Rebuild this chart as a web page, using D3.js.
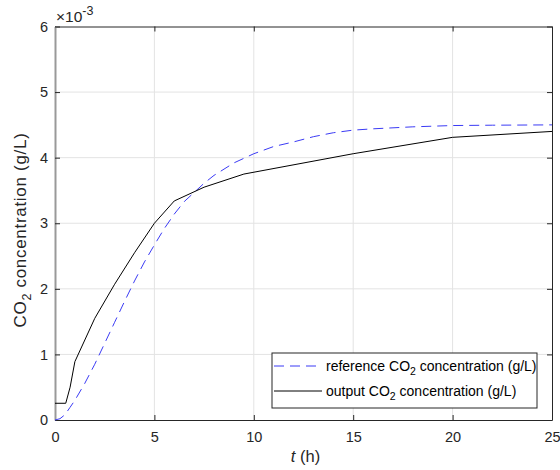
<!DOCTYPE html>
<html>
<head>
<meta charset="utf-8">
<script src="https://cdn.jsdelivr.net/npm/d3@7"></script>
<style>
  body { margin: 0; background: #fff; }
  svg { font-family: "Liberation Sans", Arial, sans-serif; }
</style>
</head>
<body>
<svg id="chart" width="560" height="470"></svg>
<script>
// time (h)
const refTime = [0, 0.25, 0.5, 0.75, 1, 1.5, 2, 2.5, 3, 3.5, 4, 4.5, 5, 5.5, 6, 6.5, 7, 7.5, 8, 9, 10, 11, 12, 13, 14, 15, 16, 18, 20, 22, 25];
// reference CO2 concentration (x1e-3 g/L)
const refValues = [0, 0.02, 0.08, 0.19, 0.3, 0.56, 0.85, 1.17, 1.49, 1.81, 2.12, 2.41, 2.67, 2.92, 3.14, 3.33, 3.47, 3.61, 3.73, 3.92, 4.06, 4.17, 4.24, 4.32, 4.38, 4.42, 4.44, 4.47, 4.49, 4.495, 4.5];

const outTime = [0, 0.54, 0.76, 1, 2, 3, 4, 5, 6, 7.5, 9.5, 15, 20, 25];
const outValues = [0.255, 0.255, 0.5, 0.89, 1.55, 2.07, 2.55, 3.0, 3.34, 3.55, 3.75, 4.06, 4.31, 4.40];

const xTicks = [0, 5, 10, 15, 20, 25];
const yTicks = [0, 1, 2, 3, 4, 5, 6];

const margin = {left: 55, right: 8, top: 26.5, bottom: 50};
const width = 560 - margin.left - margin.right;
const height = 470 - margin.top - margin.bottom;

const svg = d3.select("#chart");
const g = svg.append("g").attr("transform", `translate(${margin.left},${margin.top})`);

const x = d3.scaleLinear().domain([0, 25]).range([0, width]);
const y = d3.scaleLinear().domain([0, 6]).range([height, 0]);

// grid
g.append("g")
  .selectAll("line")
  .data(xTicks.slice(1, -1))
  .join("line")
  .attr("x1", d => x(d)).attr("x2", d => x(d))
  .attr("y1", 0).attr("y2", height)
  .attr("stroke", "#e3e3e3").attr("stroke-width", 1);
g.append("g")
  .selectAll("line")
  .data(yTicks.slice(1, -1))
  .join("line")
  .attr("x1", 0).attr("x2", width)
  .attr("y1", d => y(d)).attr("y2", d => y(d))
  .attr("stroke", "#e3e3e3").attr("stroke-width", 1);

// axes (ticks inward)
const xAxis = g.append("g")
  .attr("transform", `translate(0,${height})`)
  .call(d3.axisBottom(x).tickValues(xTicks).tickSizeInner(-5).tickSizeOuter(0).tickPadding(12));
const xAxisTop = g.append("g")
  .call(d3.axisTop(x).tickValues(xTicks).tickSizeInner(-5).tickSizeOuter(0).tickFormat(""));
const yAxis = g.append("g")
  .call(d3.axisLeft(y).tickValues(yTicks).tickFormat(d3.format("d")).tickSizeInner(-5).tickSizeOuter(0).tickPadding(7));
const yAxisRight = g.append("g")
  .attr("transform", `translate(${width},0)`)
  .call(d3.axisRight(y).tickValues(yTicks).tickSizeInner(-5).tickSizeOuter(0).tickFormat(""));

[xAxis, xAxisTop, yAxis, yAxisRight].forEach(a => {
  a.selectAll("path.domain").attr("stroke", "#262626");
  a.selectAll(".tick line").attr("stroke", "#262626");
  a.selectAll("text").attr("font-size", 14.5).attr("fill", "#262626").attr("font-family", "Liberation Sans, Arial, sans-serif");
});
yAxis.select("path.domain").attr("stroke", "#999").attr("stroke-width", 2);

// lines
const line = d3.line().x(d => x(d[0])).y(d => y(d[1]));

g.append("path")
  .datum(refTime.map((t, i) => [t, refValues[i]]))
  .attr("d", line)
  .attr("fill", "none")
  .attr("stroke", "#3b3bf5")
  .attr("stroke-width", 1)
  .attr("stroke-dasharray", "10,6");

g.append("path")
  .datum(outTime.map((t, i) => [t, outValues[i]]))
  .attr("d", line)
  .attr("fill", "none")
  .attr("stroke", "#000")
  .attr("stroke-width", 1);

// exponent label
const expo = svg.append("text")
  .attr("x", 56).attr("y", 22)
  .attr("font-size", 15.5).attr("fill", "#262626");
expo.append("tspan").text("\u00d710");
expo.append("tspan").attr("dy", -7).attr("font-size", 12.5).text("-3");

// x label
const xl = svg.append("text")
  .attr("x", 305.5).attr("y", 462)
  .attr("text-anchor", "middle")
  .attr("font-size", 16.5).attr("fill", "#262626");
xl.append("tspan").attr("font-style", "italic").text("t");
xl.append("tspan").text(" (h)");

// y label
const yl = svg.append("text")
  .attr("transform", "translate(26,230) rotate(-90)")
  .attr("text-anchor", "middle")
  .attr("font-size", 17).attr("letter-spacing", 0.7).attr("fill", "#262626");
yl.append("tspan").text("CO");
yl.append("tspan").attr("dy", 5).attr("font-size", 12.5).text("2");
yl.append("tspan").attr("dy", -5).text(" concentration (g/L)");

// legend
const legendItems = [
  {label: "reference CO", dash: "10,6", color: "#3b3bf5"},
  {label: "output CO", dash: null, color: "#000"}
];
const lg = svg.append("g").attr("transform", "translate(272,353)");
lg.append("rect")
  .attr("width", 265).attr("height", 55)
  .attr("fill", "#fff").attr("stroke", "#262626").attr("stroke-width", 1);
legendItems.forEach((it, i) => {
  const yy = 13 + i * 25;
  lg.append("line")
    .attr("x1", 2).attr("x2", 50).attr("y1", yy).attr("y2", yy)
    .attr("stroke", it.color).attr("stroke-width", 1)
    .attr("stroke-dasharray", it.dash);
  const t = lg.append("text")
    .attr("x", 54).attr("y", yy + 5)
    .attr("font-size", 14).attr("fill", "#000");
  t.append("tspan").text(it.label);
  t.append("tspan").attr("dy", 4).attr("font-size", 10.5).text("2");
  t.append("tspan").attr("dy", -4).text(" concentration (g/L)");
});
</script>
</body>
</html>
